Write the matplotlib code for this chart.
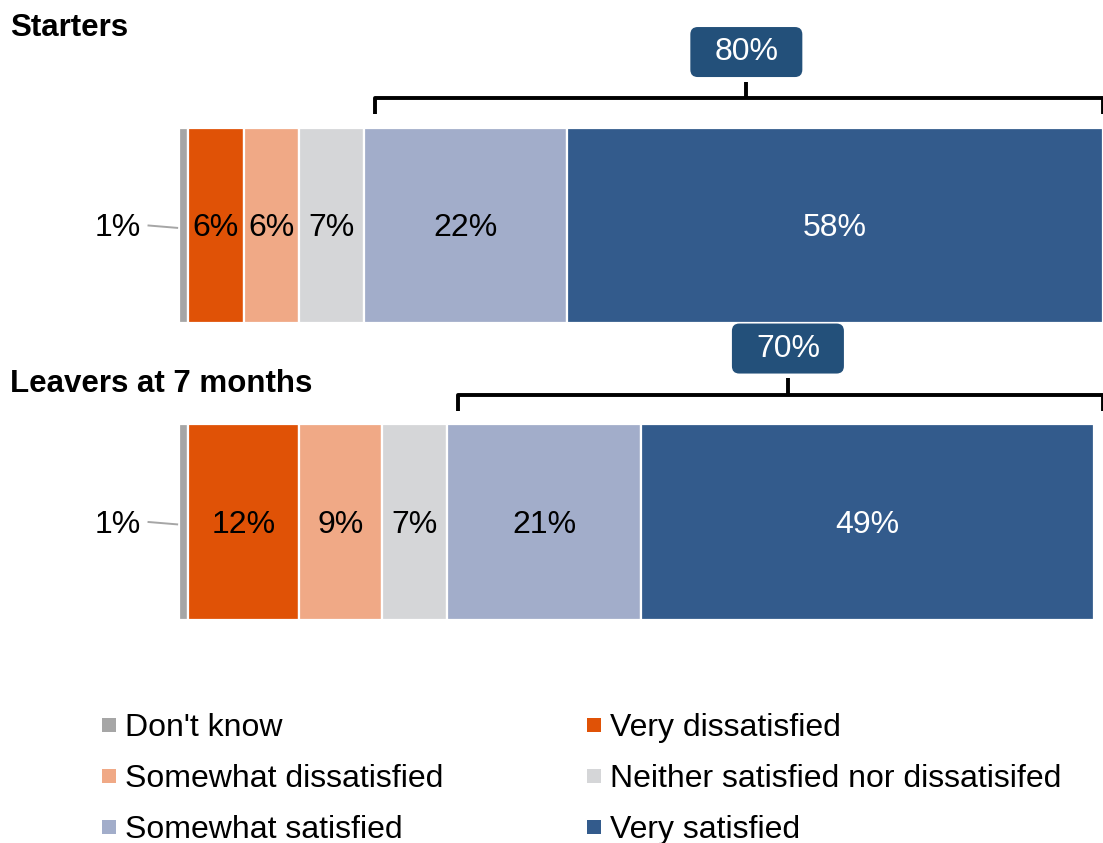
import matplotlib
matplotlib.use("Agg")
import matplotlib.pyplot as plt
from matplotlib.patches import Rectangle, FancyBboxPatch

plt.rcParams["font.family"] = ["Liberation Sans", "DejaVu Sans"]

groups = ["Starters", "Leavers at 7 months"]
categories = [
    "Don't know",
    "Very dissatisfied",
    "Somewhat dissatisfied",
    "Neither satisfied nor dissatisifed",
    "Somewhat satisfied",
    "Very satisfied",
]
starters = [1, 6, 6, 7, 22, 58]
leavers = [1, 12, 9, 7, 21, 49]
satisfied_totals = [80, 70]

colors = ["#A6A6A6", "#E05206", "#F0A986", "#D5D6D8", "#A2ADCA", "#335B8C"]
label_colors = ["black", "black", "black", "black", "black", "white"]
box_color = "#23507A"

W, H = 1103, 843
XPX = 9.24      # pixels per percentage point
YPX = 296.5     # pixels per row
fig = plt.figure(figsize=(W / 100, H / 100), dpi=100)
ax = fig.add_axes([0, 0, 1, 1])
ax.set_xlim(-179 / XPX, 100)
ax.set_ylim(2.0826, -0.7605)
ax.axis("off")

dy_text = 3 / YPX   # nudge labels down a little

rows = [starters, leavers]
for r, values in enumerate(rows):
    left = 0
    for i, v in enumerate(values):
        ax.barh(r, v, left=left, height=0.66, color=colors[i],
                edgecolor="white", linewidth=1.6)
        if i == 0:
            ax.text(-4.1, r + dy_text, f"{v}%", ha="right", va="center",
                    fontsize=23)
            ax.plot([-3.3, -0.2], [r, r + 0.008], color="#A6A6A6", lw=1.4)
        else:
            ax.text(left + v / 2, r + dy_text, f"{v}%", ha="center",
                    va="center", fontsize=23, color=label_colors[i])
        left += v

    # bracket over the two "satisfied" segments
    start = sum(values[:4]) + 1.2
    end = 100
    mid = (start + end) / 2 + 0.8
    yb = r - 0.43
    ax.plot([start, start, end, end], [r - 0.375, yb, yb, r - 0.375],
            color="black", lw=2.8, solid_joinstyle="round",
            solid_capstyle="butt", clip_on=False)
    ax.plot([mid, mid], [yb, r - 0.485], color="black", lw=2.8,
            solid_capstyle="butt")
    bw, bh = 112 / XPX, 50 / YPX
    yc = r - 0.585
    ax.add_patch(FancyBboxPatch((mid - bw / 2, yc - bh / 2), bw, bh,
                                boxstyle="round,pad=0,rounding_size=0.8",
                                mutation_aspect=XPX / YPX,
                                fc=box_color, ec="none"))
    ax.text(mid, yc, f"{satisfied_totals[r]}%", ha="center",
            va="center", fontsize=23, color="white")

# group titles
fig.text(10 / W, 1 - 28 / H, groups[0], fontsize=22.5, fontweight="bold",
         ha="left", va="center")
fig.text(10 / W, 1 - 384 / H, groups[1], fontsize=22.5, fontweight="bold",
         ha="left", va="center")

# legend in two columns
col_x = [102, 587]
row_y = [725, 776, 827]
for i, name in enumerate(categories):
    x0 = col_x[i % 2]
    y0 = row_y[i // 2]
    fig.patches.append(Rectangle((x0 / W, 1 - (y0 + 7) / H), 14 / W, 14 / H,
                                 transform=fig.transFigure, fc=colors[i],
                                 ec="none"))
    fig.text((x0 + 23) / W, 1 - (y0 + 3) / H, name, fontsize=23, ha="left",
             va="center")

fig.savefig("out.png", dpi=100)
